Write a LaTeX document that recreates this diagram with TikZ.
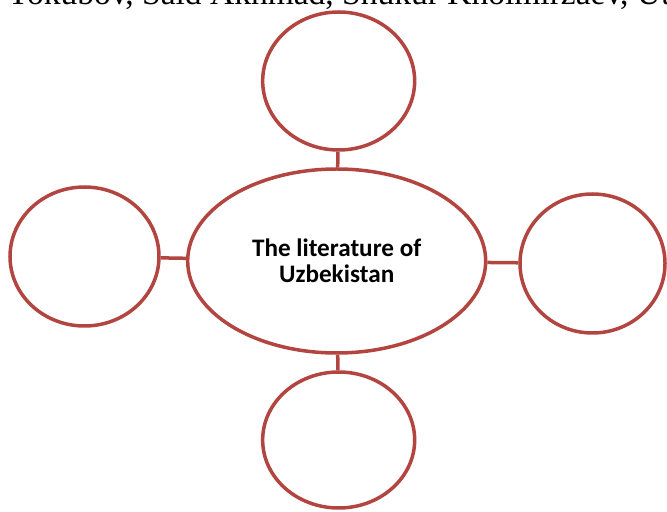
\documentclass[tikz,border=0pt]{standalone}
\usepackage{fontspec}
\setmainfont{Liberation Serif}
\newfontfamily\calibrifont{Carlito}
\usepackage{tikz}
\usetikzlibrary{shapes.geometric,positioning}
\definecolor{ringred}{RGB}{178,69,64}
\tikzset{
  ring/.style={ellipse,draw=ringred,line width=0.105cm,fill=white,inner sep=0pt},
  link/.style={draw=ringred,line width=0.105cm},
  centerlabel/.style={align=center,font=\calibrifont\bfseries\fontsize{21.5}{22.2}\selectfont},
  headline/.style={font=\fontsize{28.6}{31}\selectfont,inner sep=0pt}
}
\begin{document}
\begin{tikzpicture}
%
\useasboundingbox (0,0) rectangle (20.01cm,15.33cm);
\clip (0,0) rectangle (20.01cm,15.33cm);
%
\node[headline,anchor=base west] (authors) at (0.18cm,15.2cm) {Yokubov, Said Akhmad, Shukur Kholmirzaev, Ut};
%
\node[ring,minimum width=8.94cm,minimum height=5.52cm,centerlabel] (lit) at (10.1cm,7.5cm) {The literature of\\Uzbekistan};
\node[ring,minimum width=4.56cm,minimum height=4.14cm] (top) at (10.16cm,12.9cm) {};
\node[ring,minimum width=4.56cm,minimum height=4.08cm] (bottom) at (10.16cm,2.13cm) {};
\node[ring,minimum width=4.47cm,minimum height=4.17cm] (left) at (2.535cm,7.635cm) {};
\node[ring,minimum width=4.35cm,minimum height=4.17cm] (right) at (17.775cm,7.425cm) {};
%
\draw[link] (lit) -- (top);
\draw[link] (lit) -- (bottom);
\draw[link] (lit) -- (left);
\draw[link] (lit) -- (right);
%
\end{tikzpicture}
\end{document}
